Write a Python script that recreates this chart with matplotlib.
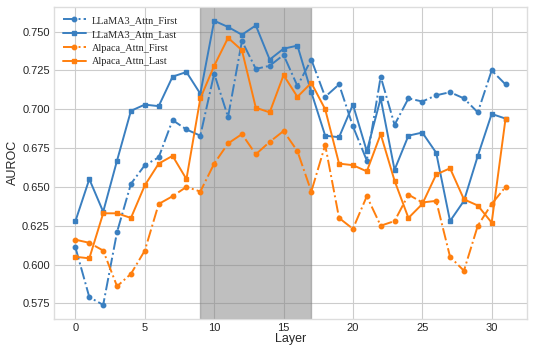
import numpy as np
import matplotlib
matplotlib.use('Agg')
import matplotlib.pyplot as plt

layers = list(range(32))

llama_first = [0.611, 0.579, 0.574, 0.621, 0.652, 0.664, 0.669, 0.693, 0.687, 0.683,
               0.723, 0.695, 0.744, 0.726, 0.728, 0.735, 0.715, 0.732, 0.708, 0.716,
               0.689, 0.667, 0.721, 0.690, 0.707, 0.705, 0.709, 0.711, 0.707, 0.698,
               0.725, 0.716]
llama_last = [0.628, 0.655, 0.634, 0.667, 0.699, 0.703, 0.702, 0.721, 0.724, 0.710,
              0.757, 0.753, 0.748, 0.754, 0.732, 0.739, 0.741, 0.711, 0.683, 0.682,
              0.703, 0.673, 0.707, 0.661, 0.683, 0.685, 0.672, 0.628, 0.641, 0.670,
              0.697, 0.694]
alpaca_first = [0.616, 0.614, 0.609, 0.586, 0.594, 0.609, 0.639, 0.644, 0.650, 0.647,
                0.665, 0.678, 0.684, 0.671, 0.679, 0.686, 0.673, 0.647, 0.677, 0.630,
                0.623, 0.644, 0.625, 0.628, 0.645, 0.640, 0.641, 0.605, 0.596, 0.625,
                0.639, 0.650]
alpaca_last = [0.605, 0.604, 0.633, 0.633, 0.630, 0.651, 0.665, 0.670, 0.655, 0.707,
               0.728, 0.746, 0.738, 0.701, 0.698, 0.722, 0.708, 0.717, 0.700, 0.665,
               0.664, 0.660, 0.684, 0.654, 0.630, 0.639, 0.658, 0.662, 0.642, 0.638,
               0.627, 0.694]

span = (9, 17)

plt.style.use('seaborn-v0_8-whitegrid')
plt.rcParams['font.family'] = ['Liberation Sans', 'DejaVu Sans']

blue = '#3a7fc0'
orange = '#ff7f0e'

fig = plt.figure(figsize=(5.34, 3.45), dpi=100)
ax = fig.add_axes([0.101, 0.075, 0.886, 0.906])

ax.plot(layers, llama_first, '-.', marker='o', color=blue, lw=1.4, ms=3.2, label='LLaMA3_Attn_First')
ax.plot(layers, llama_last, '-', marker='s', color=blue, lw=1.4, ms=3.2, label='LLaMA3_Attn_Last')
ax.plot(layers, alpaca_first, '-.', marker='o', color=orange, lw=1.4, ms=3.2, label='Alpaca_Attn_First')
ax.plot(layers, alpaca_last, '-', marker='s', color=orange, lw=1.4, ms=3.2, label='Alpaca_Attn_Last')

ax.axvspan(span[0], span[1], color='gray', alpha=0.5)

ax.set_xticks([0, 5, 10, 15, 20, 25, 30])
ax.set_yticks([0.575, 0.600, 0.625, 0.650, 0.675, 0.700, 0.725, 0.750])
ax.yaxis.set_major_formatter(matplotlib.ticker.FormatStrFormatter('%.3f'))
ax.tick_params(labelsize=8, colors='#262626', pad=3)
ax.set_xlabel('Layer', fontsize=9, labelpad=0, color='#262626')
ax.set_ylabel('AUROC', fontsize=9, labelpad=2, color='#262626')
for s in ax.spines.values():
    s.set_color('#dddddd')
    s.set_visible(True)

ax.legend(loc='upper left', frameon=False, prop={'family': 'Liberation Serif', 'size': 7.4},
          handlelength=2.2, handletextpad=0.6, labelspacing=0.45)

fig.savefig('out.png', dpi=100)
